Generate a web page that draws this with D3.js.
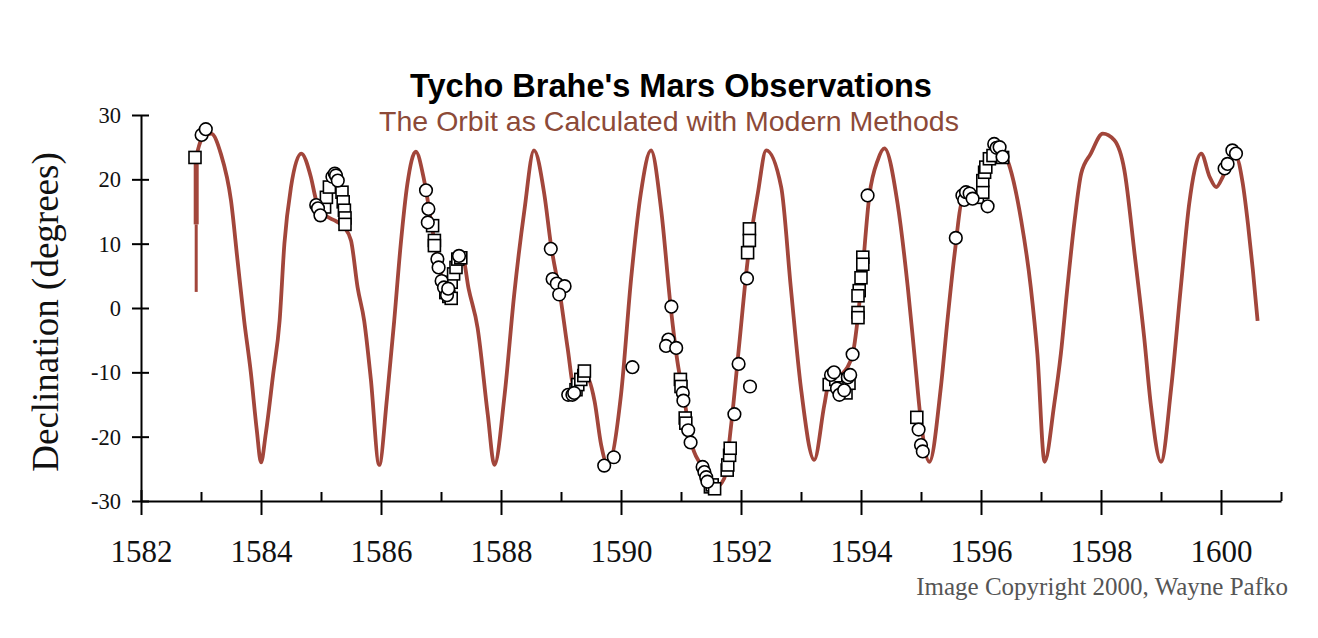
<!DOCTYPE html>
<html>
<head>
<meta charset="utf-8">
<script src="https://cdn.jsdelivr.net/npm/d3@7"></script>
<style>
  body { margin: 0; background: #fff; }
  #viz { display: block; }
  .axis path, .axis line { stroke: #000; stroke-width: 2; }
  .axis text { font-family: "Liberation Serif", "Times New Roman", serif; fill: #111; }
</style>
</head>
<body>
<svg id="viz" width="1318" height="638"></svg>
<script>
"use strict";

// modern orbit (year, declination in degrees)
const orbit = [
  [1582.92, 23.4], [1583.0, 26.0], [1583.17, 27.1], [1583.33, 24.0], [1583.5, 16.7],
  [1583.61, 7.3], [1583.72, -2.0], [1583.83, -10.0], [1583.93, -19.0], [1584.0, -24.0],
  [1584.08, -19.5], [1584.2, -10.5], [1584.31, -2.0], [1584.39, 10.0], [1584.5, 18.8],
  [1584.67, 24.0], [1584.83, 20.4], [1584.92, 16.7], [1585.05, 14.6], [1585.25, 13.5],
  [1585.39, 12.5], [1585.5, 10.5], [1585.61, 3.2], [1585.72, -2.0], [1585.83, -11.0],
  [1585.97, -24.4], [1586.1, -14.0], [1586.22, -2.0], [1586.33, 10.0], [1586.44, 19.3],
  [1586.58, 24.3], [1586.72, 19.8], [1586.86, 12.0], [1587.0, 5.3], [1587.11, 1.1],
  [1587.25, 6.8], [1587.36, 7.9], [1587.46, 3.0], [1587.61, -3.1], [1587.78, -16.6],
  [1587.89, -24.4], [1588.06, -13.5], [1588.22, 2.1], [1588.39, 15.2], [1588.55, 24.5],
  [1588.72, 17.8], [1588.83, 10.0], [1589.0, 1.1], [1589.11, -6.2], [1589.22, -12.4],
  [1589.39, -10.1], [1589.56, -14.5], [1589.67, -21.3], [1589.78, -24.4], [1590.0, -13.5],
  [1590.17, 4.7], [1590.33, 17.8], [1590.5, 24.5], [1590.67, 15.2], [1590.83, 0.0],
  [1590.94, -8.3], [1591.06, -14.5], [1591.17, -20.8], [1591.33, -24.4], [1591.56, -28.0],
  [1591.72, -26.5], [1591.83, -18.7], [1591.97, -5.7], [1592.11, 7.3], [1592.28, 17.8],
  [1592.42, 24.5], [1592.67, 18.8], [1592.83, 3.2], [1593.0, -12.5], [1593.22, -23.6],
  [1593.39, -15.0], [1593.47, -11.4], [1593.67, -10.4], [1593.86, -7.2], [1594.0, 3.2],
  [1594.14, 17.5], [1594.28, 23.0], [1594.39, 24.8], [1594.61, 16.2], [1594.78, 3.2],
  [1594.89, -7.2], [1595.0, -17.7], [1595.14, -23.9], [1595.33, -12.4], [1595.44, -2.0],
  [1595.56, 8.4], [1595.69, 16.5], [1595.89, 16.7], [1596.06, 18.8], [1596.17, 23.0],
  [1596.28, 25.0], [1596.44, 23.0], [1596.67, 13.6], [1596.83, 3.2], [1596.94, -7.2],
  [1597.06, -23.9], [1597.22, -15.0], [1597.33, -7.2], [1597.44, 3.2], [1597.56, 13.6],
  [1597.67, 20.9], [1597.83, 24.0], [1598.03, 27.1], [1598.22, 26.1], [1598.39, 21.4],
  [1598.56, 8.4], [1598.72, -4.6], [1598.83, -15.0], [1599.0, -23.9], [1599.17, -12.4],
  [1599.33, 3.2], [1599.47, 16.2], [1599.56, 21.4], [1599.67, 24.0], [1599.81, 20.4],
  [1599.92, 18.8], [1600.03, 20.4], [1600.14, 22.7], [1600.25, 23.5], [1600.36, 19.5],
  [1600.45, 13.0], [1600.53, 6.0], [1600.61, -2.0]
];

// the spike at the start of the curve
const spikeThin = [[1582.92, 2.5], [1582.92, 13.0]];
const spikeThick = [[1582.92, 13.0], [1582.92, 23.4]];

// Tycho's observations, circles and squares
const circleObs = [
  [1583.01, 26.9], [1583.08, 27.8],
  [1584.92, 16.0], [1584.95, 15.5], [1584.99, 14.4],
  [1585.19, 20.4], [1585.23, 20.9], [1585.25, 20.6], [1585.28, 19.8],
  [1586.75, 18.3], [1586.79, 15.4], [1586.78, 13.3],
  [1586.94, 7.6], [1586.96, 6.3], [1587.01, 4.2], [1587.05, 3.2], [1587.1, 2.0], [1587.12, 3.0], [1587.3, 8.1],
  [1588.83, 9.2], [1588.86, 4.5], [1588.93, 3.8], [1589.06, 3.4], [1588.97, 2.1],
  [1589.12, -13.5], [1589.19, -13.5], [1589.22, -13.2],
  [1589.72, -24.5], [1589.88, -23.2],
  [1590.19, -9.2],
  [1590.84, 0.2], [1590.79, -4.9], [1590.75, -5.9], [1590.92, -6.2],
  [1591.03, -13.2], [1591.04, -14.4], [1591.12, -19.0], [1591.16, -20.9],
  [1591.36, -24.7], [1591.39, -25.5], [1591.42, -26.3], [1591.44, -27.0],
  [1591.89, -16.5], [1591.96, -8.7], [1592.15, -12.2], [1592.1, 4.6],
  [1593.5, -10.4], [1593.55, -10.0], [1593.6, -12.5], [1593.64, -13.5], [1593.72, -12.8],
  [1593.78, -10.8], [1593.82, -10.4], [1593.86, -7.2], [1594.11, 17.5],
  [1594.96, -18.9], [1595.0, -21.3], [1595.03, -22.3],
  [1595.58, 10.9], [1595.69, 17.5], [1595.72, 16.8], [1595.75, 18.0], [1595.81, 17.8], [1595.86, 17.0],
  [1596.11, 15.8], [1596.22, 25.5], [1596.26, 24.9], [1596.31, 25.0], [1596.36, 23.5],
  [1600.06, 21.7], [1600.11, 22.4], [1600.19, 24.5], [1600.25, 24.0]
];

const squareObs = [
  [1582.9, 23.4],
  [1585.06, 15.7], [1585.09, 17.2], [1585.14, 18.8], [1585.35, 18.0], [1585.37, 16.5],
  [1585.39, 15.2], [1585.4, 14.0], [1585.4, 13.0],
  [1586.86, 12.8], [1586.89, 10.5], [1586.89, 9.7], [1587.08, 2.4], [1587.13, 1.8], [1587.17, 1.5],
  [1587.17, 4.0], [1587.21, 5.3], [1587.25, 6.3], [1587.28, 7.6], [1587.33, 7.8],
  [1589.25, -12.7], [1589.28, -11.9], [1589.33, -11.1], [1589.38, -10.5], [1589.39, -9.8],
  [1590.99, -11.1], [1591.0, -12.2], [1591.07, -17.1], [1591.08, -17.9],
  [1591.49, -27.8], [1591.52, -27.5], [1591.56, -28.1],
  [1591.77, -25.2], [1591.78, -24.4], [1591.81, -22.9], [1591.82, -21.8],
  [1592.14, 12.3], [1592.14, 10.5], [1592.11, 8.6],
  [1594.03, 7.9], [1594.03, 6.8], [1594.0, 4.7], [1593.97, 2.7], [1593.95, 1.9],
  [1593.95, -0.7], [1593.95, -1.5],
  [1593.47, -11.9], [1593.58, -11.1], [1593.67, -12.4], [1593.75, -13.2], [1593.8, -11.7],
  [1594.93, -17.0],
  [1595.94, 17.2], [1596.03, 18.0], [1596.03, 19.8], [1596.06, 21.1], [1596.08, 21.9],
  [1596.14, 23.2], [1596.2, 23.7], [1596.36, 23.4]
];

const yTicks = [-30, -20, -10, 0, 10, 20, 30];
const xMajor = [1582, 1584, 1586, 1588, 1590, 1592, 1594, 1596, 1598, 1600];
const xMinor = [1583, 1585, 1587, 1589, 1591, 1593, 1595, 1597, 1599, 1601];

const svg = d3.select("#viz");
const lineColor = "#a2463b";

let xScale = d3.scaleLinear().domain([1582, 1601]).range([141, 1281]),
    yScale = d3.scaleLinear().domain([-30, 30]).range([501, 115]);

// y axis, ticks cross the line
let yAxis = svg.append("g")
    .attr("class", "y axis")
    .attr("transform", `translate(${xScale(1582)}, 0)`)
    .call(d3.axisLeft(yScale).tickValues(yTicks).tickSize(9).tickSizeOuter(0).tickFormat((d) => String(d)));
yAxis.selectAll(".tick line").attr("x1", 8).attr("x2", -9);
yAxis.selectAll(".tick text").attr("x", -20).attr("dy", "0.34em").style("font-size", "22.5px");

// x axis: minor ticks above only, major ticks crossing
svg.append("g")
    .attr("class", "x axis minor")
    .attr("transform", `translate(0, ${yScale(-30)})`)
    .call(d3.axisBottom(xScale).tickValues(xMinor).tickSize(0).tickSizeOuter(0).tickFormat(""))
    .selectAll(".tick line").attr("y1", 0).attr("y2", -9);

let xAxis = svg.append("g")
    .attr("class", "x axis")
    .attr("transform", `translate(0, ${yScale(-30)})`)
    .call(d3.axisBottom(xScale).tickValues(xMajor).tickSize(14).tickSizeOuter(0).tickFormat((d) => String(d)));
xAxis.select(".domain").remove();
xAxis.selectAll(".tick line").attr("y1", -11).attr("y2", 14);
xAxis.selectAll(".tick text").attr("y", 61).attr("dy", 0).style("font-size", "31px");

// orbit
let line = d3.line()
    .x((d) => xScale(d[0]))
    .y((d) => yScale(d[1]));

svg.append("path")
    .datum(spikeThin)
    .attr("d", line)
    .attr("fill", "none")
    .attr("stroke", lineColor)
    .attr("stroke-width", 3);
svg.append("path")
    .datum(spikeThick)
    .attr("d", line)
    .attr("fill", "none")
    .attr("stroke", lineColor)
    .attr("stroke-width", 5);
svg.append("path")
    .datum(orbit)
    .attr("d", line.curve(d3.curveMonotoneX))
    .attr("fill", "none")
    .attr("stroke", lineColor)
    .attr("stroke-width", 3.8)
    .attr("stroke-linejoin", "round");

// observations
svg.selectAll(".sq")
    .data(squareObs)
    .enter().append("rect")
    .attr("class", "sq")
    .attr("x", (d) => xScale(d[0]) - 6)
    .attr("y", (d) => yScale(d[1]) - 6)
    .attr("width", 12)
    .attr("height", 12)
    .attr("fill", "#fff")
    .attr("stroke", "#000")
    .attr("stroke-width", 1.6);

svg.selectAll(".obs")
    .data(circleObs)
    .enter().append("circle")
    .attr("class", "obs")
    .attr("cx", (d) => xScale(d[0]))
    .attr("cy", (d) => yScale(d[1]))
    .attr("r", 6.3)
    .attr("fill", "#fff")
    .attr("stroke", "#000")
    .attr("stroke-width", 1.6);

// texts
svg.append("text")
    .attr("x", 671).attr("y", 97)
    .attr("text-anchor", "middle")
    .style("font-family", "'Liberation Sans', Arial, sans-serif")
    .style("font-weight", "bold")
    .style("font-size", "32.5px")
    .text("Tycho Brahe's Mars Observations");

svg.append("text")
    .attr("x", 669).attr("y", 131)
    .attr("text-anchor", "middle")
    .style("font-family", "'Liberation Sans', Arial, sans-serif")
    .style("font-size", "28.5px")
    .attr("fill", "#8c4a38")
    .text("The Orbit as Calculated with Modern Methods");

svg.append("text")
    .attr("transform", `translate(58, ${yScale(0) + 4}) rotate(-90)`)
    .attr("text-anchor", "middle")
    .style("font-family", "'Liberation Serif', 'Times New Roman', serif")
    .style("font-size", "37px")
    .attr("fill", "#111")
    .text("Declination (degrees)");

svg.append("text")
    .attr("x", 1288).attr("y", 595)
    .attr("text-anchor", "end")
    .style("font-family", "'Liberation Serif', 'Times New Roman', serif")
    .style("font-size", "25px")
    .attr("fill", "#555")
    .text("Image Copyright 2000, Wayne Pafko");
</script>
</body>
</html>
